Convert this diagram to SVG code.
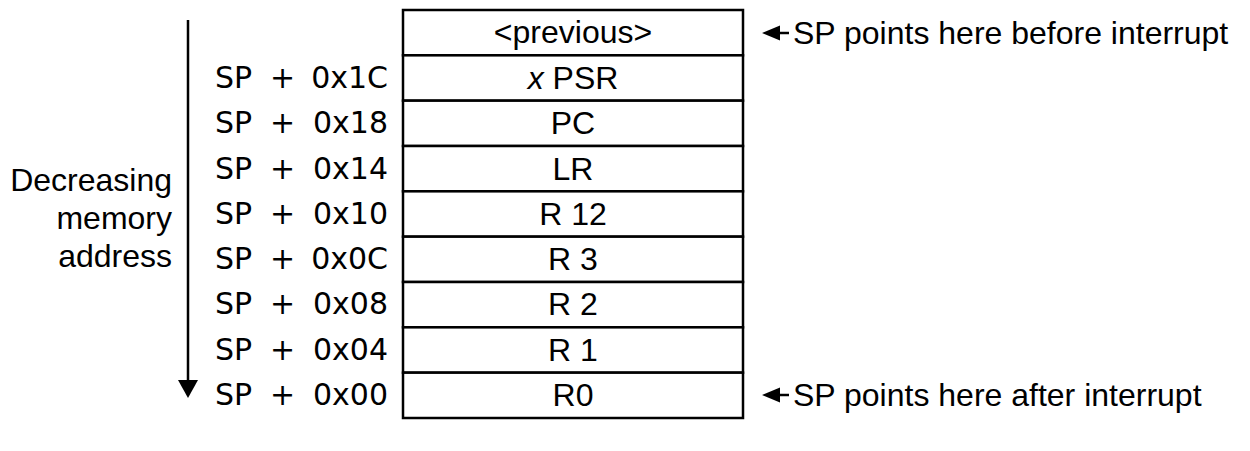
<svg xmlns="http://www.w3.org/2000/svg" width="1250" height="451" viewBox="0 0 1250 451">
<defs>
<style>
.cell{fill:#fff;stroke:#000;stroke-width:2.5}
.ct{font-family:"Liberation Sans",Arial,sans-serif;font-size:32px;text-anchor:middle;fill:#000}
.lt{font-family:"DejaVu Sans",Verdana,sans-serif;font-size:30px;fill:#000}
.rt{font-family:"Liberation Sans",Arial,sans-serif;font-size:32px;fill:#000}
.line{stroke:#000;stroke-width:2.5;fill:none}
</style>
</defs>
<rect width="1250" height="451" fill="#fff"/>
<g id="stack">
<g id="row-previous"><rect class="cell" x="403" y="10" width="340" height="45.33"/><text class="ct" x="573" y="43">&lt;previous&gt;</text></g>
<g id="row-xpsr"><rect class="cell" x="403" y="55.33" width="340" height="45.33"/><text class="ct" x="573" y="89"><tspan font-style="italic">x</tspan> PSR</text></g>
<g id="row-pc"><rect class="cell" x="403" y="100.67" width="340" height="45.33"/><text class="ct" x="573" y="134">PC</text></g>
<g id="row-lr"><rect class="cell" x="403" y="146" width="340" height="45.33"/><text class="ct" x="573" y="180">LR</text></g>
<g id="row-r12"><rect class="cell" x="403" y="191.33" width="340" height="45.33"/><text class="ct" x="573" y="225">R 12</text></g>
<g id="row-r3"><rect class="cell" x="403" y="236.67" width="340" height="45.33"/><text class="ct" x="573" y="270">R 3</text></g>
<g id="row-r2"><rect class="cell" x="403" y="282" width="340" height="45.33"/><text class="ct" x="573" y="315">R 2</text></g>
<g id="row-r1"><rect class="cell" x="403" y="327.33" width="340" height="45.33"/><text class="ct" x="573" y="361">R 1</text></g>
<g id="row-r0"><rect class="cell" x="403" y="372.67" width="340" height="45.33"/><text class="ct" x="573" y="406">R0</text></g>
</g>
<g id="offsets">
<g><text class="lt" x="215" y="88">SP</text><text class="lt" x="270" y="88">+</text><text class="lt" x="388" y="88" text-anchor="end">0x1C</text></g>
<g><text class="lt" x="215" y="133">SP</text><text class="lt" x="270" y="133">+</text><text class="lt" x="388" y="133" text-anchor="end">0x18</text></g>
<g><text class="lt" x="215" y="179">SP</text><text class="lt" x="270" y="179">+</text><text class="lt" x="388" y="179" text-anchor="end">0x14</text></g>
<g><text class="lt" x="215" y="224">SP</text><text class="lt" x="270" y="224">+</text><text class="lt" x="388" y="224" text-anchor="end">0x10</text></g>
<g><text class="lt" x="215" y="269">SP</text><text class="lt" x="270" y="269">+</text><text class="lt" x="388" y="269" text-anchor="end">0x0C</text></g>
<g><text class="lt" x="215" y="314">SP</text><text class="lt" x="270" y="314">+</text><text class="lt" x="388" y="314" text-anchor="end">0x08</text></g>
<g><text class="lt" x="215" y="360">SP</text><text class="lt" x="270" y="360">+</text><text class="lt" x="388" y="360" text-anchor="end">0x04</text></g>
<g><text class="lt" x="215" y="405">SP</text><text class="lt" x="270" y="405">+</text><text class="lt" x="388" y="405" text-anchor="end">0x00</text></g>
</g>
<g id="direction-label">
<text class="rt" x="172" y="191" text-anchor="end">Decreasing</text>
<text class="rt" x="172" y="229" text-anchor="end">memory</text>
<text class="rt" x="172" y="267" text-anchor="end">address</text>
</g>
<g id="connectors">
<line class="line" x1="188" y1="20" x2="188" y2="382"/>
<polygon points="178,380 198,380 188,398" fill="#000"/>
<line class="line" x1="778" y1="33" x2="789" y2="33"/>
<polygon points="762,33 780,25.5 780,40.5" fill="#000"/>
<line class="line" x1="778" y1="395" x2="789" y2="395"/>
<polygon points="762,395 780,387.5 780,402.5" fill="#000"/>
</g>
<g id="annotations">
<text class="rt" x="793" y="44">SP points here before interrupt</text>
<text class="rt" x="793" y="406">SP points here after interrupt</text>
</g>
</svg>
